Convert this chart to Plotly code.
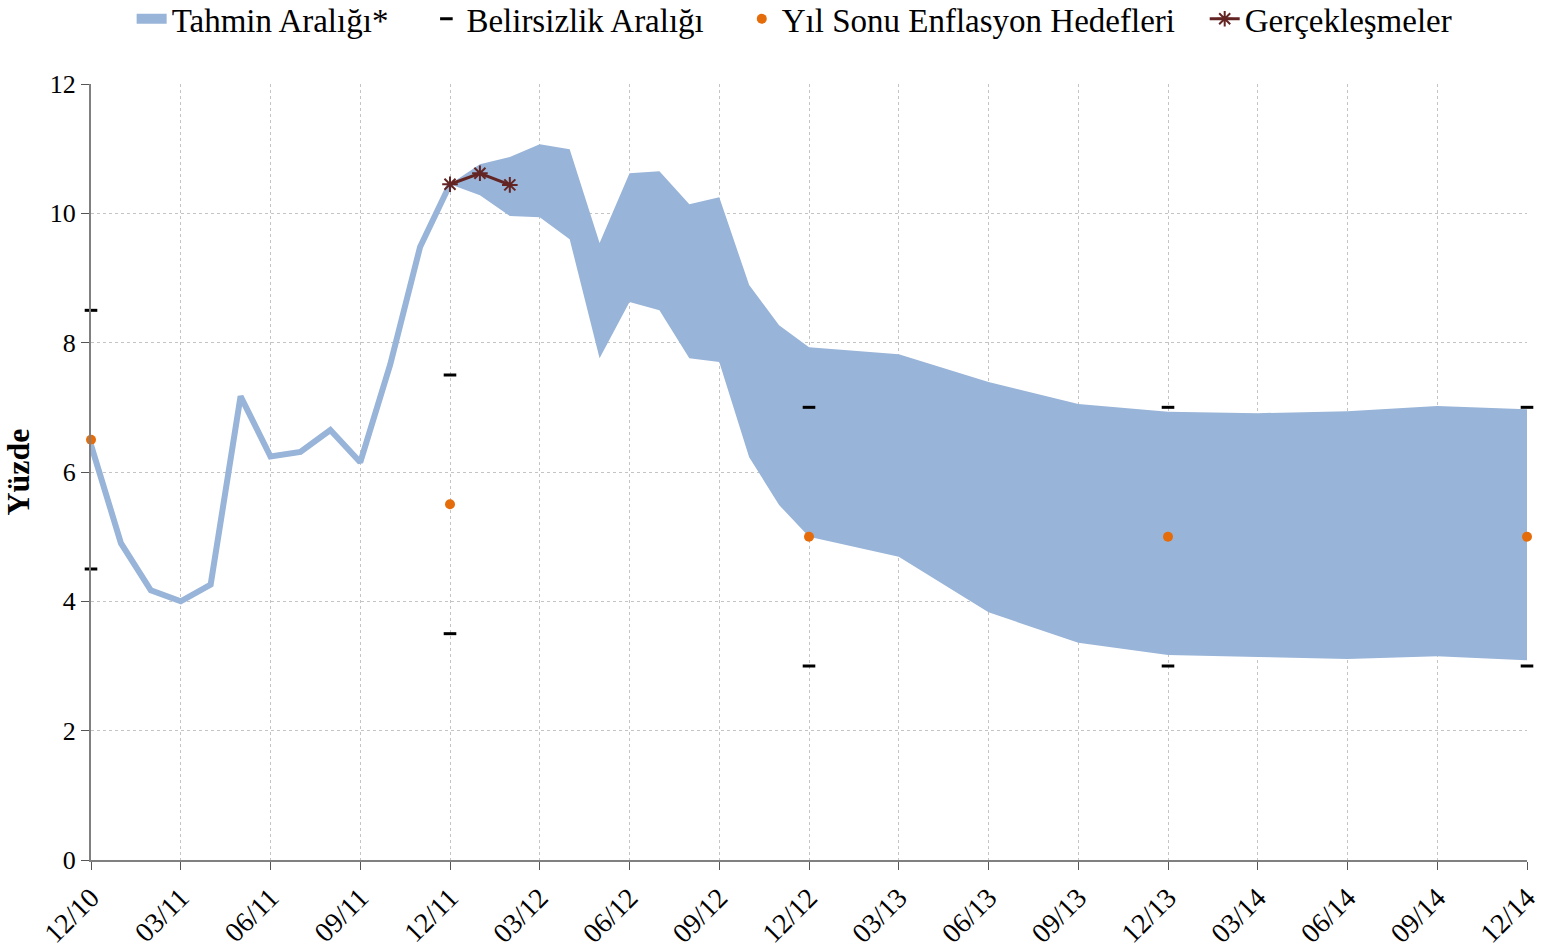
import plotly.graph_objects as go

# Monthly index: 0 = 12/10 ... 48 = 12/14
hist_x = list(range(0, 13))
hist_y = [6.42, 4.9, 4.17, 4.0, 4.26, 7.17, 6.24, 6.31, 6.65, 6.15, 7.66, 9.48, 10.45]

band_x = [12, 13, 14, 15, 16, 17, 18, 19, 20, 21, 22, 23, 24, 27, 30, 33, 36, 39, 42, 45, 48]
band_upper = [10.45, 10.76, 10.87, 11.07, 10.99, 9.54, 10.62, 10.65, 10.14, 10.25, 8.89, 8.27, 7.93,
              7.82, 7.39, 7.05, 6.93, 6.91, 6.94, 7.02, 6.97]
band_lower = [10.45, 10.28, 9.96, 9.94, 9.6, 7.76, 8.63, 8.5, 7.76, 7.7, 6.23, 5.49, 5.0,
              4.69, 3.83, 3.36, 3.17, 3.14, 3.11, 3.15, 3.09]

unc_x = [0, 0, 12, 12, 24, 24, 36, 36, 48, 48]
unc_y = [8.5, 4.5, 7.5, 3.5, 7.0, 3.0, 7.0, 3.0, 7.0, 3.0]

target_x = [0, 12, 24, 36, 48]
target_y = [6.5, 5.5, 5.0, 5.0, 5.0]

real_x = [12, 13, 14]
real_y = [10.45, 10.62, 10.44]

tick_vals = list(range(0, 49, 3))
tick_text = ["12/10", "03/11", "06/11", "09/11", "12/11", "03/12", "06/12", "09/12",
             "12/12", "03/13", "06/13", "09/13", "12/13", "03/14", "06/14", "09/14", "12/14"]

BLUE = "#98B4D8"
SERIF = "Liberation Serif, DejaVu Serif, serif"
NB = "\u00a0"
fig = go.Figure()

fig.add_trace(go.Scatter(
    x=band_x + band_x[::-1], y=band_upper + band_lower[::-1],
    fill="toself", fillcolor=BLUE, line=dict(color=BLUE, width=0),
    mode="lines", name="Tahmin Aralığı*", showlegend=False, legendgroup="band", hoverinfo="skip"))
fig.add_trace(go.Scatter(
    x=hist_x, y=hist_y, mode="lines", line=dict(color=BLUE, width=6),
    showlegend=False, legendgroup="band"))
# legend swatch for the band
fig.add_trace(go.Scatter(
    x=[None], y=[None], mode="lines", line=dict(color=BLUE, width=20),
    name="Tahmin Aralığı*" + NB * 4, legendgroup="band"))
fig.add_trace(go.Scatter(
    x=unc_x, y=unc_y, mode="markers", name="Belirsizlik Aralığı" + NB * 4,
    marker=dict(symbol="line-ew", size=9, line=dict(color="black", width=3)),
    cliponaxis=False))
fig.add_trace(go.Scatter(
    x=target_x, y=target_y, mode="markers", name="Yıl Sonu Enflasyon Hedefleri" + NB * 3,
    marker=dict(symbol="circle", size=10, color="#E46C0A"), cliponaxis=False))
fig.add_trace(go.Scatter(
    x=real_x, y=real_y, mode="lines+markers", name="Gerçekleşmeler",
    line=dict(color="#632523", width=3),
    marker=dict(symbol="asterisk-open", size=13, line=dict(color="#632523", width=2)),
    cliponaxis=False))

grid = dict(showgrid=True, gridcolor="#C4C4C4", griddash="dot", gridwidth=1)
fig.update_layout(
    width=1541, height=952,
    margin=dict(l=91, r=14, t=84, b=92, autoexpand=False),
    plot_bgcolor="white", paper_bgcolor="white",
    font=dict(family=SERIF, color="black", size=26),
    legend=dict(orientation="h", x=0.49, xanchor="center", y=1.084, yanchor="middle",
                font=dict(family=SERIF, size=33),
                tracegroupgap=0),
    showlegend=True,
    xaxis=dict(range=[0, 48], tickmode="array", tickvals=tick_vals, ticktext=tick_text,
               tickangle=-45, ticks="outside", ticklen=8, tickcolor="#555",
               showline=True, linecolor="#808080", linewidth=2, zeroline=False,
               automargin=False, ticklabeloverflow="allow", ticklabelstandoff=0,
               tickfont=dict(size=28), **grid),
    yaxis=dict(range=[0, 12], dtick=2, ticks="outside", ticklen=8, tickcolor="#555",
               showline=True, linecolor="#808080", linewidth=2, zeroline=False,
               automargin=False,
               title=dict(text="<b>Yüzde</b>", font=dict(size=32), standoff=18),
               tickfont=dict(size=26), **grid),
)

fig.write_html(
    "out.html",
    config={"displayModeBar": False},
    post_script="document.body.style.margin='0';document.body.style.overflow='hidden';",
)
